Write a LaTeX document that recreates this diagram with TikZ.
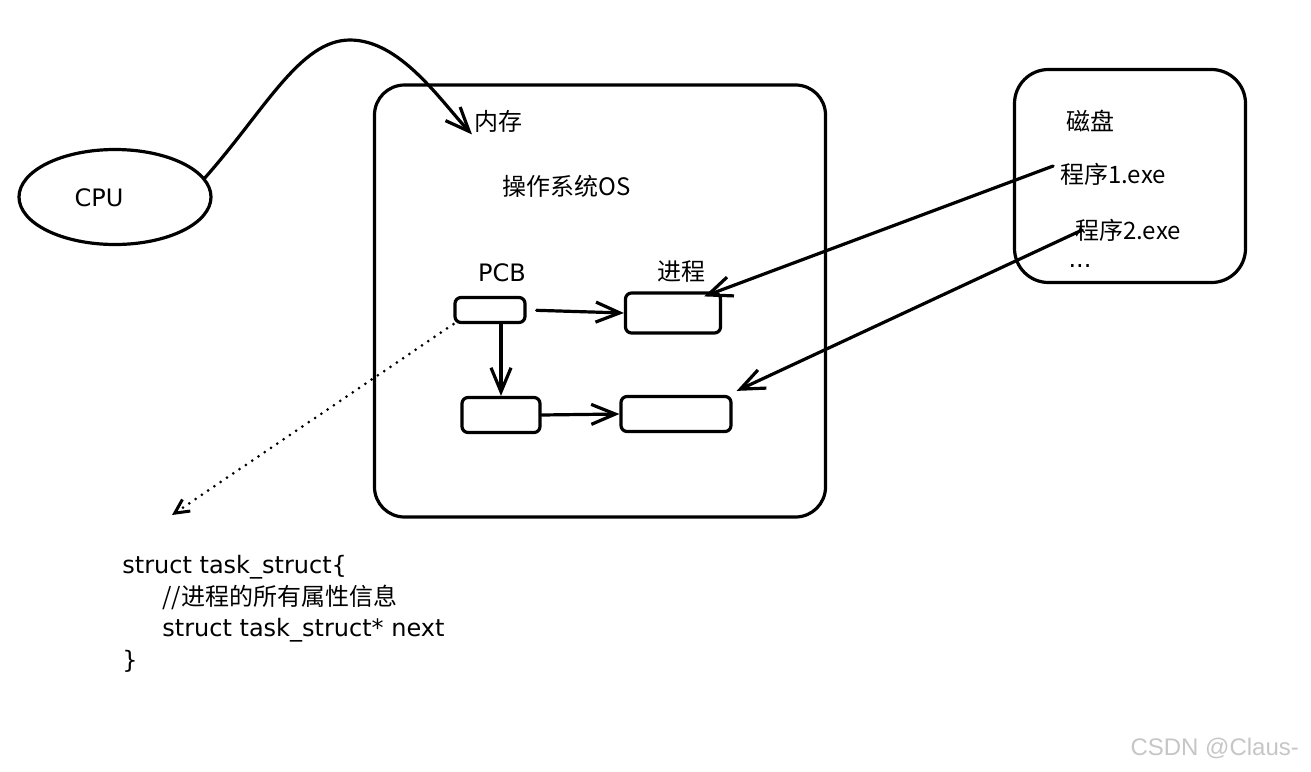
\documentclass[tikz,border=0pt]{standalone}
\usepackage{fontspec}
\setmainfont{DejaVu Sans}
\newfontfamily\cjk{Noto Sans CJK SC}
\newfontfamily\wmfont{Liberation Sans}
\usetikzlibrary{positioning,arrows.meta,shapes.geometric}

\begin{document}
\begin{tikzpicture}[
        x=0.5pt, y=-0.5pt,
        every node/.style={font=\fontsize{12}{15.8}\selectfont},
        sketch/.style={line width=1.6pt, line cap=round, line join=round},
        cpunode/.style={sketch, draw, ellipse, minimum width=96pt, minimum height=47.5pt},
        bigbox/.style={sketch, draw, rounded corners=15pt},
        smallbox/.style={sketch, draw, rounded corners=3pt, inner sep=0pt},
        arrow/.style={sketch, -{Straight Barb[length=12pt, width=10pt]}},
        pointer/.style={sketch, line width=1.5pt, dash pattern=on 0pt off 3.8pt, -{Straight Barb[length=7pt, width=7pt]}}
    ]
        \useasboundingbox (0,0) rectangle (1311,771);

        % CPU
        \node[cpunode] (cpu) at (115,197) {};
        \node (cpulbl) at (99,198) {CPU};

        % Memory with the OS inside
        \node[bigbox, minimum width=225.5pt, minimum height=216pt] (mem) at (600,301) {};
        \node[anchor=west, inner sep=1pt] (memlbl) at (472,121) {\cjk 内存};
        \node (os) at (567,186) {\cjk 操作系统OS};

        % PCB list
        \node[smallbox, minimum width=35pt, minimum height=12.5pt] (pcb) at (490,310) {};
        \node (pcblbl) at (502,273) {PCB};
        \node[smallbox, minimum width=47.5pt, minimum height=20pt] (proc1) at (673,313) {};
        \node[above=1pt of proc1, xshift=4pt] (proclbl) {\cjk 进程};
        \node[smallbox, minimum width=39pt, minimum height=17.5pt] (box3) at (501,415) {};
        \node[smallbox, minimum width=55pt, minimum height=17.5pt] (box4) at (676,414) {};

        % Disk
        \node[bigbox, rounded corners=17pt, minimum width=115.5pt, minimum height=106.5pt] (disk) at (1130,176) {};
        \node (disklbl) at (1090,121) {\cjk 磁盘};
        \node (prog1) at (1113,174) {\cjk 程序1.exe};
        \node (prog2) at (1128,230) {\cjk 程序2.exe};
        \node (more) at (1080,266) {...};

        % task_struct
        \coordinate (ptr) at (172,515);
        \node[anchor=north west, align=left, inner sep=0pt] (code) at (122,555)
            {struct task\_struct\{\\
             \hspace*{20pt}{\cjk //进程的所有属性信息}\\
             \hspace*{20pt}struct task\_struct* next\\
             \}};

        \node[anchor=east, text=gray!45, font=\wmfont\fontsize{12}{14}\selectfont] (mark) at (1306,748) {CSDN @Claus-};

        % CPU to memory
        \draw[arrow] (cpu.12) .. controls (265,110) and (300,40) .. (350,40)
            .. controls (400,40) and (440,100) .. (memlbl.south west);

        % links between the PCBs
        \draw[arrow, shorten <=5pt] (pcb.east) -- (proc1.west);
        \draw[arrow] (box3.north |- pcb.south) -- (box3.north);
        \draw[arrow] (box3.east) -- (box4.west);
        \draw[pointer] (pcb.south west) -- (ptr);

        % programs loaded from disk
        \draw[arrow] ([yshift=4pt]prog1.west) -- ([shift={(-9pt,-2.5pt)}]proc1.north east);
        \draw[arrow] ([xshift=7pt]prog2.west) -- ([shift={(2pt,2pt)}]box4.north east);

    \end{tikzpicture}
\end{document}
